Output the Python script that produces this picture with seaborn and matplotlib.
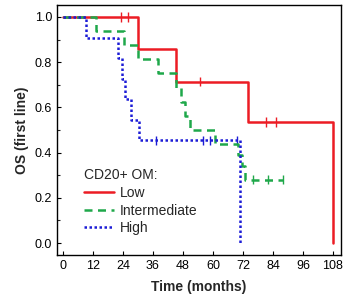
import matplotlib
matplotlib.use("Agg")
import matplotlib.pyplot as plt
from matplotlib.ticker import MultipleLocator
import seaborn as sns
import pandas as pd

groups = ["Low", "Intermediate", "High"]

low_t = [0, 30, 45, 74, 108]
low_s = [1.0, 0.857, 0.714, 0.536, 0.0]
int_t = [0, 13, 24.5, 30, 38, 45, 47, 49, 51, 61, 70, 71.5, 73, 88]
int_s = [1.0, 0.9375, 0.875, 0.8125, 0.75, 0.6875, 0.625, 0.5625, 0.5, 0.4375, 0.39, 0.34, 0.28, 0.28]
high_t = [0, 9, 22, 23.5, 25, 27, 30.5, 71]
high_s = [1.0, 0.909, 0.818, 0.727, 0.636, 0.545, 0.4545, 0.0]

low_ct = [23, 26, 55, 81, 85]
low_cs = [1.0, 1.0, 0.714, 0.536, 0.536]
int_ct = [76, 82, 88]
int_cs = [0.28, 0.28, 0.28]
high_ct = [37, 56, 59, 69.5]
high_cs = [0.4545, 0.4545, 0.4545, 0.4545]

x_ticks = [0, 12, 24, 36, 48, 60, 72, 84, 96, 108]
y_ticks = [0.0, 0.2, 0.4, 0.6, 0.8, 1.0]

curves = pd.concat([
    pd.DataFrame({"group": "Low", "time": low_t, "surv": low_s}),
    pd.DataFrame({"group": "Intermediate", "time": int_t, "surv": int_s}),
    pd.DataFrame({"group": "High", "time": high_t, "surv": high_s}),
], ignore_index=True)
cens = pd.concat([
    pd.DataFrame({"group": "Low", "time": low_ct, "surv": low_cs}),
    pd.DataFrame({"group": "Intermediate", "time": int_ct, "surv": int_cs}),
    pd.DataFrame({"group": "High", "time": high_ct, "surv": high_cs}),
], ignore_index=True)

palette = {"Low": "#ec1c24", "Intermediate": "#1fa84a", "High": "#1c1cd6"}
dashes = {"Low": "", "Intermediate": (3.2, 2.2), "High": (1.0, 1.0)}

sns.set_style("ticks")
plt.rcParams["font.family"] = ["Liberation Sans", "DejaVu Sans"]

fig = plt.figure(figsize=(3.51, 3.08), dpi=100)
ax = fig.add_axes([57/351, 1 - 255/308, 284/351, 250/308])

sns.lineplot(data=curves, x="time", y="surv", hue="group", style="group",
             hue_order=groups, style_order=groups, palette=palette, dashes=dashes,
             estimator=None, sort=False, drawstyle="steps-post", linewidth=1.8, ax=ax)
sns.scatterplot(data=cens, x="time", y="surv", hue="group", hue_order=groups,
                palette=palette, marker="|", s=45, linewidth=1.0, legend=False, ax=ax)

ax.set_xlim(-2.4, 111.2)
ax.set_ylim(-0.053, 1.053)
ax.set_xticks(x_ticks)
ax.set_yticks(y_ticks)
ax.set_yticklabels([f"{v:.1f}" for v in y_ticks])
ax.yaxis.set_minor_locator(MultipleLocator(0.1))
ax.tick_params(direction="in", length=3, width=0.8, labelsize=9, colors="black")
ax.tick_params(which="minor", direction="in", length=2, width=0.8)
for sp in ax.spines.values():
    sp.set_visible(True)
    sp.set_linewidth(1.0)
    sp.set_color("black")

ax.set_xlabel("Time (months)", fontsize=10, fontweight="bold", labelpad=6)
ax.set_ylabel("OS (first line)", fontsize=10, fontweight="bold", labelpad=4)

handles, labels = ax.get_legend_handles_labels()
leg = ax.legend(handles, labels, title="CD20+ OM:", frameon=False, loc="lower left",
                bbox_to_anchor=(0.06, 0.04), fontsize=10, title_fontsize=10,
                alignment="left", handlelength=2.2, handletextpad=0.4,
                labelspacing=0.27, borderpad=0.2)

fig.savefig("out.png", dpi=100)
